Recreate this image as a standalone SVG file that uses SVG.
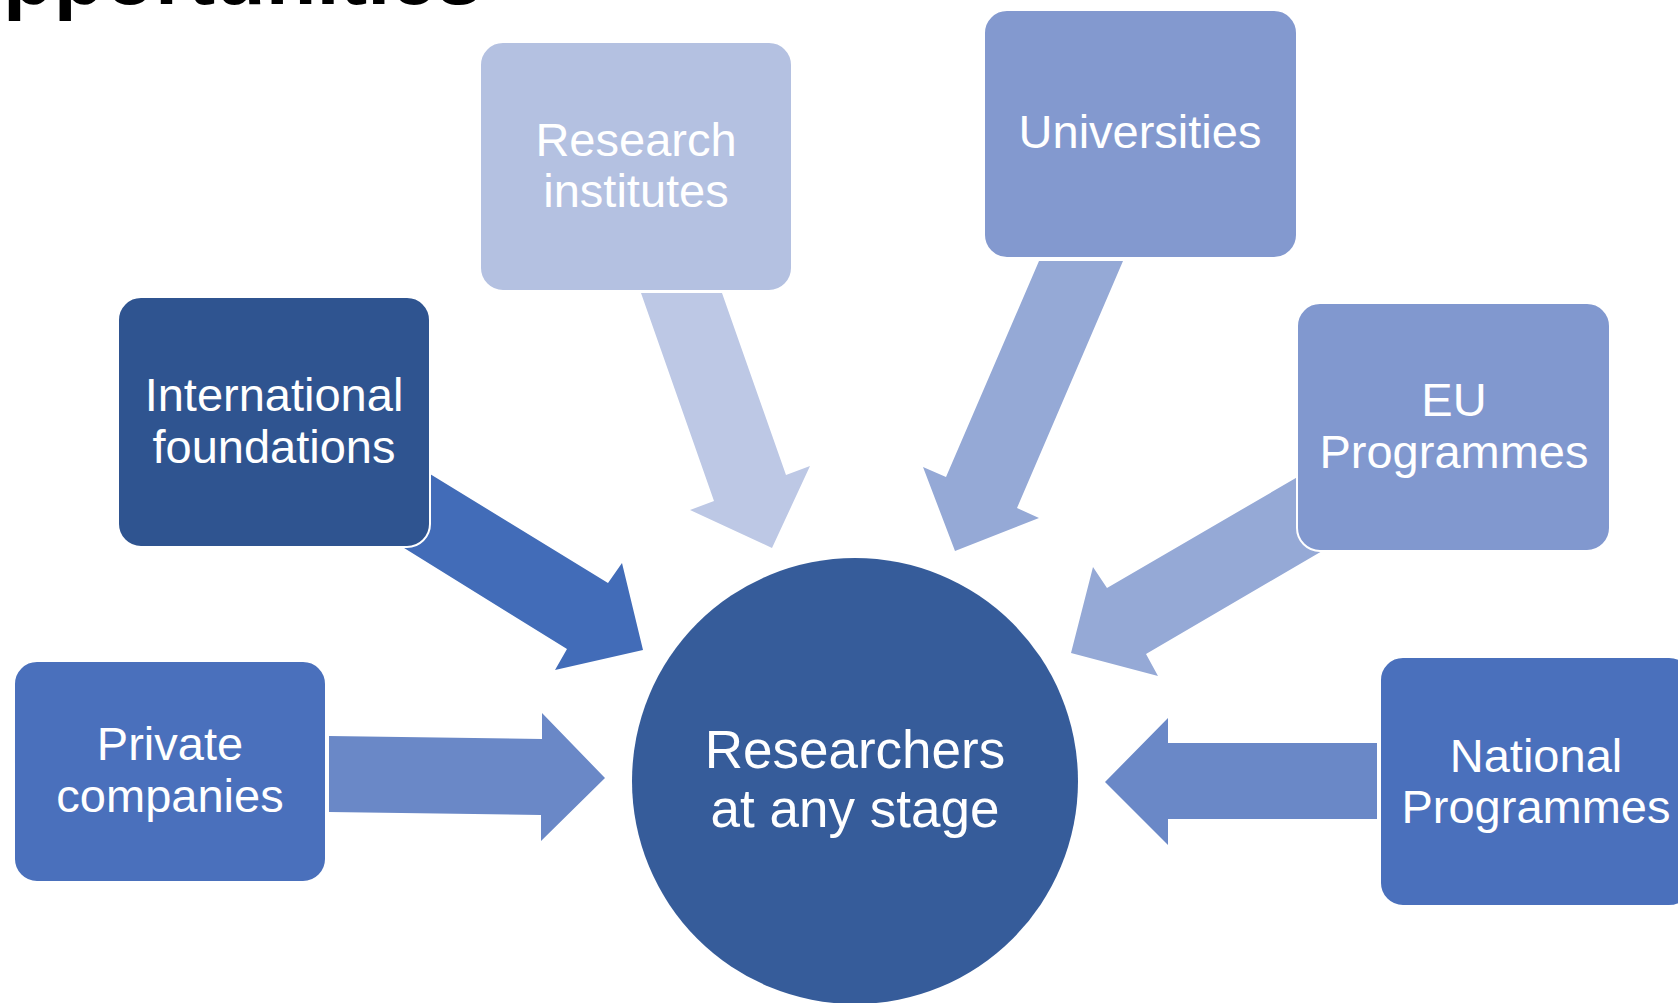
<svg xmlns="http://www.w3.org/2000/svg" width="1678" height="1003" viewBox="0 0 1678 1003">
<style>
.lbl{font-family:"Liberation Sans",Arial,sans-serif;font-size:47px;fill:#ffffff;text-anchor:middle}
.big{font-size:53px}
.box{stroke:#ffffff;stroke-width:2}
.title{font-family:"Liberation Sans",Arial,sans-serif;font-size:83px;font-weight:bold;fill:#000000}
</style>
<rect x="0" y="0" width="1678" height="1003" fill="#ffffff"/>
<text class="title" x="3" y="4">pportunities</text>
<g id="connectors">
<polygon fill="#BDC8E5" points="641,293 722,293 786,475 810,466 772,548 690,510 714,501"/>
<polygon fill="#95A9D6" points="1039,261 1123,261 1017,508 1039,518 955,551 923,467 946,477"/>
<polygon fill="#426CB8" points="399,455 608,583 622,563 643,650 555,670 567,649 359,520"/>
<polygon fill="#95A9D6" points="1332,457 1107,588 1093,567 1071,653 1158,676 1146,654 1370,523"/>
<polygon fill="#6A88C7" points="329,736 542,739 542,713 605,778 541,841 541,815 329,812"/>
<polygon fill="#6A88C7" points="1377,743 1168,743 1168,718 1105,782 1168,845 1168,819 1377,819"/>
</g>
<g id="node-research-institutes">
<rect class="box" x="480" y="42" width="312" height="249" rx="23" fill="#B4C1E1"/>
<text class="lbl" x="636" y="156">Research</text>
<text class="lbl" x="636" y="207">institutes</text>
</g>
<g id="node-universities">
<rect class="box" x="984" y="10" width="313" height="248" rx="23" fill="#8399CF"/>
<text class="lbl" x="1140" y="148">Universities</text>
</g>
<g id="node-international-foundations">
<rect class="box" x="118" y="297" width="312" height="250" rx="23" fill="#2F5490"/>
<text class="lbl" x="274" y="411">International</text>
<text class="lbl" x="274" y="463">foundations</text>
</g>
<g id="node-eu-programmes">
<rect class="box" x="1297" y="303" width="313" height="248" rx="23" fill="#8198CF"/>
<text class="lbl" x="1454" y="416">EU</text>
<text class="lbl" x="1454" y="468">Programmes</text>
</g>
<g id="node-private-companies">
<rect class="box" x="14" y="661" width="312" height="221" rx="23" fill="#4A70BC"/>
<text class="lbl" x="170" y="760">Private</text>
<text class="lbl" x="170" y="812">companies</text>
</g>
<g id="node-national-programmes">
<rect class="box" x="1380" y="657" width="312" height="249" rx="23" fill="#4A70BC"/>
<text class="lbl" x="1536" y="772">National</text>
<text class="lbl" x="1536" y="823">Programmes</text>
</g>
<g id="node-researchers">
<circle cx="855" cy="781" r="223" fill="#365C9A"/>
<text class="lbl big" x="855" y="768">Researchers</text>
<text class="lbl big" x="855" y="827">at any stage</text>
</g>
</svg>
